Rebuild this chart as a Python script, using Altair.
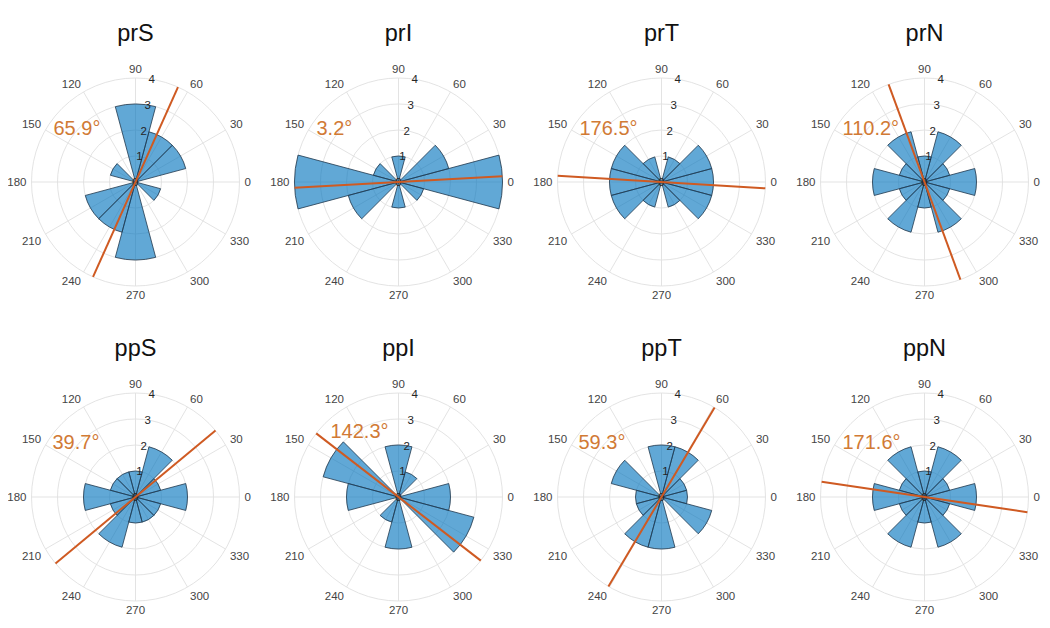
import math
import altair as alt
import pandas as pd

# ---------------- data ----------------
panel_names = ["prS", "prI", "prT", "prN", "ppS", "ppI", "ppT", "ppN"]
bin_centers = [0, 30, 60, 90, 120, 150, 180, 210, 240, 270, 300, 330]
counts_prS = [0, 2, 2, 3, 0, 1, 0, 2, 2, 3, 0, 1]
counts_prI = [4, 2, 0, 1, 0, 1, 4, 2, 0, 1, 0, 1]
counts_prT = [2, 2, 1, 0, 1, 2, 2, 2, 1, 0, 1, 2]
counts_prN = [2, 1, 2, 1, 2, 1, 2, 1, 2, 1, 2, 1]
counts_ppS = [2, 1, 2, 1, 1, 1, 2, 1, 2, 1, 1, 1]
counts_ppI = [2, 0, 1, 2, 0, 3, 2, 0, 1, 2, 0, 3]
counts_ppT = [1, 1, 2, 2, 0, 2, 1, 1, 2, 2, 0, 2]
counts_ppN = [2, 1, 2, 1, 2, 1, 2, 1, 2, 1, 2, 1]
all_counts = [counts_prS, counts_prI, counts_prT, counts_prN,
              counts_ppS, counts_ppI, counts_ppT, counts_ppN]
mean_angles = [65.9, 3.2, 176.5, 110.2, 39.7, 142.3, 59.3, 171.6]
theta_ticks = [0, 30, 60, 90, 120, 150, 180, 210, 240, 270, 300, 330]
r_ticks = [0, 1, 2, 3, 4]
bin_width = 30

# ---------------- layout / style ----------------
WT, HT = 1034, 610        # whole chart
U = 26.0                  # pixels per radial unit
X0, DX = 127.5, 263.0     # first panel centre / column step (px)
Y0, DY = 174.0, 315.0     # first panel centre / row step (px from top)
NCOL = 4
RMAX = 4
FONT = "Liberation Sans"
LAB_FS = 11.5
CHAR_W = 0.556 * LAB_FS
CAP_H = 0.716 * LAB_FS
LAB_R = 109.0             # px, near edge of theta labels
TITLE_UP = 141.5          # px, title baseline above centre
annot_offsets = [(-82, 53), (-82, 53), (-82, 53), (-82, 53),
                 (-83, 54), (-68, 65), (-83, 54), (-82, 54)]

BLUE = "#0072BD"
EDGE = "#233a4f"
GRID = "#e0e0e0"
LINE = "#CF5A22"
ANNOT = "#D17A35"

XS = alt.Scale(domain=[0, WT / U], nice=False, zero=False)
YS = alt.Scale(domain=[0, HT / U], nice=False, zero=False)
RS = alt.Scale(type="linear", domain=[0, RMAX], range=[0, RMAX * U], zero=True)


def X(f="x"):
    return alt.X(f"{f}:Q", scale=XS, axis=None)


def Y(f="y"):
    return alt.Y(f"{f}:Q", scale=YS, axis=None)


def centre(i):
    col, row = i % NCOL, i // NCOL
    return (X0 + col * DX) / U, (HT - (Y0 + row * DY)) / U


def vega_angles(a1, a2):
    s, e = 90 - a2, 90 - a1
    if s < 0:
        s += 360
        e += 360
    return math.radians(s), math.radians(e)


rings, spokes, bars, tlabs, rlabs, lines, annots, titles = ([] for _ in range(8))
ra = math.radians(81)
for i in range(len(panel_names)):
    cx, cy = centre(i)
    for r in r_ticks[1:]:
        rings.append({"x": cx, "y": cy, "r": r, "t0": 0.0, "t1": 2 * math.pi})
    for t in theta_ticks:
        c, s = math.cos(math.radians(t)), math.sin(math.radians(t))
        spokes.append({"x": cx, "y": cy, "x2": cx + RMAX * c, "y2": cy + RMAX * s})
        lab = str(t)
        w = len(lab) * CHAR_W
        px, py = LAB_R * c, LAB_R * s
        cxp = px if abs(c) < 1e-6 else (px + w / 2 if c > 0 else px - w / 2)
        cyp = py if abs(s) < 1e-6 else (py + CAP_H / 2 if s > 0 else py - CAP_H / 2)
        tlabs.append({"x": cx + cxp / U, "y": cy + (cyp - CAP_H / 2) / U, "label": lab})
    for b, n in zip(bin_centers, all_counts[i]):
        if n <= 0:
            continue
        t0, t1 = vega_angles(b - bin_width / 2, b + bin_width / 2)
        bars.append({"x": cx, "y": cy, "t0": t0, "t1": t1, "count": n})
    for r in r_ticks:
        rlabs.append({"x": cx + r * math.cos(ra),
                      "y": cy + r * math.sin(ra) - (CAP_H / 2) / U, "label": str(r)})
    a = math.radians(mean_angles[i])
    lines.append({"x": cx - RMAX * math.cos(a), "y": cy - RMAX * math.sin(a),
                  "x2": cx + RMAX * math.cos(a), "y2": cy + RMAX * math.sin(a)})
    ox, oy = annot_offsets[i]
    annots.append({"x": cx + ox / U, "y": cy + oy / U, "label": f"{mean_angles[i]}°"})
    titles.append({"x": cx, "y": cy + TITLE_UP / U, "label": panel_names[i]})

ring_layer = alt.Chart(pd.DataFrame(rings)).mark_arc(
    filled=False, color=GRID, strokeWidth=0.9
).encode(x=X(), y=Y(), theta=alt.Theta("t0:Q", scale=None), theta2="t1:Q",
         radius=alt.Radius("r:Q", scale=RS))

spoke_layer = alt.Chart(pd.DataFrame(spokes)).mark_rule(
    color=GRID, strokeWidth=0.9
).encode(x=X(), y=Y(), x2="x2:Q", y2="y2:Q")

bar_layer = alt.Chart(pd.DataFrame(bars)).mark_arc(
    fill=BLUE, fillOpacity=0.62, stroke=EDGE, strokeWidth=0.9, strokeOpacity=0.9
).encode(x=X(), y=Y(), theta=alt.Theta("t0:Q", scale=None), theta2="t1:Q",
         radius=alt.Radius("count:Q", scale=RS))

rlab_layer = alt.Chart(pd.DataFrame(rlabs)).mark_text(
    font=FONT, fontSize=LAB_FS, color="#262626", align="center", baseline="alphabetic"
).encode(x=X(), y=Y(), text="label:N")

line_layer = alt.Chart(pd.DataFrame(lines)).mark_rule(
    color=LINE, strokeWidth=2
).encode(x=X(), y=Y(), x2="x2:Q", y2="y2:Q")

tlab_layer = alt.Chart(pd.DataFrame(tlabs)).mark_text(
    font=FONT, fontSize=LAB_FS, color="#444444", align="center", baseline="alphabetic"
).encode(x=X(), y=Y(), text="label:N")

annot_layer = alt.Chart(pd.DataFrame(annots)).mark_text(
    font=FONT, fontSize=20, color=ANNOT, align="left", baseline="middle"
).encode(x=X(), y=Y(), text="label:N")

title_layer = alt.Chart(pd.DataFrame(titles)).mark_text(
    font=FONT, fontSize=23.5, color="#111111", align="center", baseline="alphabetic"
).encode(x=X(), y=Y(), text="label:N")

chart = alt.layer(
    ring_layer, spoke_layer, bar_layer, rlab_layer, line_layer,
    tlab_layer, annot_layer, title_layer
).properties(
    width=WT, height=HT, padding=0, autosize=alt.AutoSizeParams(type="none")
).configure_view(stroke=None)

chart.save("out.html", embed_options={"renderer": "svg", "actions": False})
